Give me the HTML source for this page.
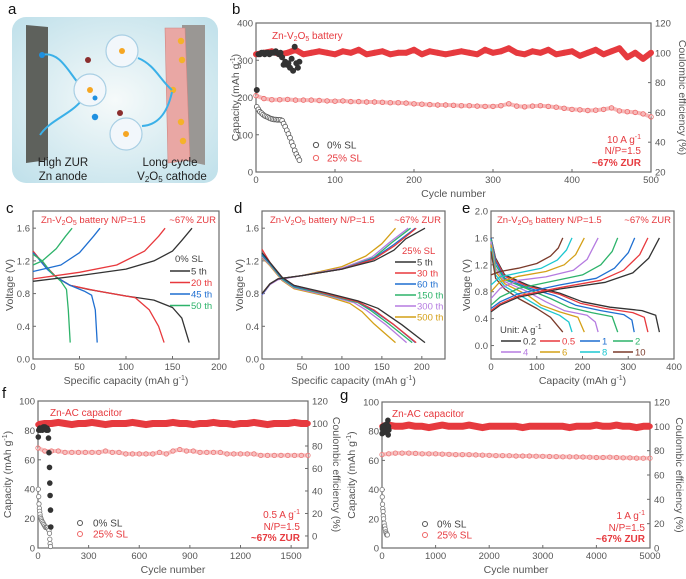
<!DOCTYPE html>
<html><head><meta charset="utf-8">
<style>
html,body{margin:0;padding:0;background:#fff;}
svg{display:block;font-family:"Liberation Sans",sans-serif;}
</style></head>
<body>
<svg id="fig" width="686" height="579" viewBox="0 0 686 579" xmlns="http://www.w3.org/2000/svg">
<defs>
<radialGradient id="bgGrad" cx="0.5" cy="0.5" r="0.7">
<stop offset="0" stop-color="#f6fafa"/><stop offset="1" stop-color="#bfe0ea"/>
</radialGradient>
</defs>
<rect width="686" height="579" fill="#fff"/>
<g>
<rect x="12" y="17" width="206" height="166" rx="14" fill="url(#bgGrad)"/>
<polygon points="26,25 48,27 48,160 26,163" fill="#5e615c"/>
<polygon points="182,25 205,25 205,165 182,160" fill="#9a9794"/>
<g fill="#e9a7a4" stroke="#d08682" stroke-width="0.6">
<polygon points="165,28 185,28 190,160 168,163"/>
</g>
<g fill="#f5b22a">
<circle cx="181" cy="41" r="3.2"/><circle cx="182" cy="60" r="3.2"/><circle cx="173" cy="90" r="3.2"/><circle cx="181" cy="122" r="3.2"/><circle cx="183" cy="141" r="3.2"/>
</g>
<g fill="none" stroke="#3ab0e8" stroke-width="2">
<path d="M42,55 C60,50 70,75 80,85"/><path d="M40,135 C50,120 70,115 82,100"/><path d="M138,58 C155,65 160,80 172,90"/><path d="M172,92 C168,110 160,125 142,126"/>
</g>
<g fill="#f2f7fb" stroke="#a9cfe4" stroke-width="1.2">
<circle cx="90" cy="90" r="16"/><circle cx="122" cy="51" r="16"/><circle cx="126" cy="134" r="16"/>
</g>
<g fill="#f5a623"><circle cx="90" cy="90" r="3"/><circle cx="122" cy="51" r="3"/><circle cx="126" cy="134" r="3"/></g>
<circle cx="42" cy="55" r="3" fill="#1e90e0"/>
<circle cx="95" cy="98" r="2.5" fill="#1e90e0"/>
<circle cx="95" cy="117" r="3.2" fill="#1e90e0"/>
<circle cx="88" cy="60" r="3" fill="#8b2e2e"/>
<circle cx="120" cy="113" r="3" fill="#8b2e2e"/>
<text x="63" y="166" font-size="11.5" text-anchor="middle" fill="#222">High ZUR</text>
<text x="63" y="180" font-size="11.5" text-anchor="middle" fill="#222">Zn anode</text>
<text x="170" y="166" font-size="11.5" text-anchor="middle" fill="#222">Long cycle</text>
<text x="172" y="180" font-size="11.5" text-anchor="middle" fill="#222">V<tspan font-size="8" dy="2">2</tspan><tspan dy="-2">O</tspan><tspan font-size="8" dy="2">5</tspan><tspan dy="-2"> cathode</tspan></text>
</g>
<g font-size="15" fill="#111">
<text x="8" y="14">a</text>
<text x="232" y="14">b</text>
<text x="6" y="213">c</text>
<text x="234" y="213">d</text>
<text x="462" y="213">e</text>
<text x="2" y="398">f</text>
<text x="340" y="400">g</text>
</g>
</svg>
<script>
// ---------- panel b data ----------
const bCyc25=[0,10,20,30,40,50,60,70,80,90,100,110,120,130,140,150,160,170,180,190,200,210,220,230,240,250,260,270,280,290,300,310,320,330,340,350,360,370,380,390,400,410,420,430,440,450,460,470,480,490,500];
const bCap25=[205,197,194,194,195,193,193,193,192,191,190,191,189,189,188,188,187,186,186,185,183,182,181,180,180,179,178,178,177,176,176,178,183,177,175,177,178,176,174,171,168,167,165,166,168,172,164,162,160,156,148];
const bCE25=[99,100,101,99,100,102,99,100,101,100,99,101,100,102,99,100,101,99,100,100,102,99,101,100,99,100,101,100,99,102,100,101,103,100,99,101,100,102,99,100,101,98,100,102,99,101,103,97,100,96,100];
const bCyc0=[1,3,5,7,9,11,13,15,17,19,21,23,25,27,29,31,33,35,37,39,41,43,45,47,49,51,53,55];
const bCap0=[175,168,162,158,154,151,149,147,145,143,142,141,141,140,140,140,138,130,122,112,102,92,80,70,58,48,40,32];
const bCE0=[75,99,99,100,100,99,100,100,99,100,100,100,101,100,99,100,97,92,94,92,93,90,96,88,104,93,90,94];
// ---------- panel f data ----------
const fCyc25=[0,40,80,120,160,200,240,280,320,360,400,440,480,520,560,600,640,680,720,760,800,840,880,920,960,1000,1040,1080,1120,1160,1200,1240,1280,1320,1360,1400,1440,1480,1520,1560,1600];
const fCap25=[68,66,66,66,65,65,65,65,65,65,66,65,65,64,64,64,64,64,65,64,66,67,66,66,65,65,65,65,64,64,64,64,64,63,63,63,63,63,63,63,63];
const fCE25=[99,100,100,101,100,99,100,100,101,100,99,100,100,100,101,100,99,100,100,100,101,100,100,99,100,100,101,100,100,99,100,100,101,100,99,100,100,100,101,100,100];
const fCyc0=[2,4,6,8,10,12,15,18,21,25,30,35,40,45,50,55,60,65,68,70,72,74];
const fCap0=[40,35,30,27,25,23,21,20,19,18,17,16,15,14,14,14,13,12,10,6,3,1];
const fCycCE0=[2,5,8,11,14,17,20,23,26,29,32,35,38,41,44,47,50,53,56,59,62,65,68,70,72,74,76];
const fCE0=[88,94,95,96,94,95,96,95,94,96,97,96,95,97,96,95,94,96,95,94,87,74,61,47,36,23,8];
// ---------- panel g data ----------
const gCyc25=[0,125,250,375,500,625,750,875,1000,1125,1250,1375,1500,1625,1750,1875,2000,2125,2250,2375,2500,2625,2750,2875,3000,3125,3250,3375,3500,3625,3750,3875,4000,4125,4250,4375,4500,4625,4750,4875,5000];
const gCap25=[64,64.5,65,65,65,64.8,64.5,64.5,64.5,64.3,64.2,64,64,64,63.8,63.6,63.5,63.3,63.3,63.2,63,63,63,62.9,62.8,62.7,62.6,62.5,62.5,62.4,62.3,62.2,62,62,62.2,62,61.8,61.8,61.6,61.5,61.5];
const gCE25=[100,101,100,100,101,100,100,99,100,101,100,100,100,101,100,99,100,100,100,100,100,99,100,100,100,100,100,100,99,100,100,100,101,100,100,101,100,100,99,100,100];
const gCyc0=[2,5,10,15,20,25,30,40,50,60,70,80,90,100];
const gCap0=[40,35,30,27,25,22,20,17,15,13,11,10,9,9];
const gCycCE0=[2,8,14,20,26,32,38,44,50,56,62,68,74,80,86,92,98,104,110,116,122,128];
const gCE0=[94,98,100,96,97,99,95,98,101,97,96,99,100,97,98,102,96,99,105,93,100,97];
// ---------- panel c curves [capacity, voltage] ----------
const cCycles=["5 th","20 th","45 th","50 th"];
const cDis=[
 [[0,1.32],[5,1.25],[15,1.12],[25,1.0],[40,0.9],[60,0.85],[100,0.77],[130,0.72],[150,0.63],[160,0.5],[168,0.2]],
 [[0,1.32],[5,1.25],[15,1.12],[25,1.0],[40,0.9],[70,0.83],[110,0.75],[125,0.6],[135,0.4],[141,0.2]],
 [[0,1.3],[5,1.24],[15,1.1],[25,1.0],[40,0.9],[55,0.83],[63,0.78],[67,0.6],[69,0.2]],
 [[0,1.28],[10,1.2],[20,1.05],[30,0.95],[36,0.85],[38,0.6],[40,0.2]]];
const cCha=[
 [[0,0.95],[50,1.02],[100,1.1],[130,1.2],[150,1.32],[160,1.45],[171,1.6]],
 [[0,0.98],[50,1.06],[90,1.15],[120,1.32],[135,1.5],[142,1.6]],
 [[0,1.07],[30,1.15],[50,1.3],[65,1.5],[72,1.6]],
 [[0,1.15],[10,1.2],[25,1.35],[35,1.5],[42,1.6]]];
// ---------- panel d curves ----------
const dCycles=["5 th","30 th","60 th","150 th","300 th","500 th"];
const dDis=[
 [[0,1.3],[10,1.18],[25,1.0],[40,0.9],[80,0.81],[120,0.71],[145,0.62],[175,0.42],[204,0.2]],
 [[0,1.34],[10,1.18],[25,1.0],[40,0.9],[80,0.8],[120,0.7],[140,0.6],[165,0.42],[193,0.2]],
 [[0,1.28],[10,1.17],[25,0.99],[40,0.89],[80,0.8],[120,0.7],[138,0.6],[165,0.42],[192,0.2]],
 [[0,1.27],[10,1.16],[25,0.98],[40,0.88],[80,0.79],[120,0.69],[135,0.6],[160,0.42],[188,0.2]],
 [[0,1.25],[10,1.15],[25,0.97],[40,0.87],[80,0.78],[115,0.69],[130,0.6],[155,0.42],[181,0.2]],
 [[0,1.24],[10,1.14],[25,0.96],[40,0.86],[80,0.77],[110,0.68],[125,0.58],[140,0.43],[167,0.2]]];
const dCha=[
 [[0,0.8],[10,0.92],[20,0.98],[50,1.02],[100,1.1],[140,1.2],[165,1.33],[180,1.47],[204,1.6]],
 [[0,0.8],[10,0.92],[20,0.98],[50,1.02],[100,1.1],[140,1.22],[165,1.38],[193,1.6]],
 [[0,0.79],[10,0.92],[20,0.98],[50,1.02],[100,1.1],[140,1.23],[165,1.4],[192,1.6]],
 [[0,0.79],[10,0.92],[20,0.98],[50,1.02],[100,1.1],[140,1.24],[162,1.42],[186,1.6]],
 [[0,0.78],[10,0.91],[20,0.97],[50,1.02],[100,1.11],[138,1.25],[160,1.43],[183,1.6]],
 [[0,0.8],[10,0.92],[20,0.98],[50,1.02],[100,1.13],[130,1.26],[150,1.41],[167,1.6]]];
// ---------- panel e curves ----------
const eRates=["0.2","0.5","1","2","4","6","8","10"];
const eDis=[
 [[0,1.6],[10,1.3],[30,1.05],[80,0.9],[150,0.78],[200,0.65],[260,0.57],[330,0.52],[360,0.45],[368,0.2]],
 [[0,1.6],[10,1.28],[30,1.03],[80,0.88],[150,0.76],[195,0.63],[250,0.55],[310,0.49],[335,0.42],[343,0.2]],
 [[0,1.6],[10,1.25],[30,1.0],[80,0.86],[140,0.74],[185,0.6],[240,0.52],[290,0.46],[308,0.38],[313,0.2]],
 [[0,1.58],[10,1.2],[30,0.98],[80,0.84],[130,0.7],[170,0.57],[220,0.49],[265,0.43],[277,0.2]],
 [[0,1.55],[10,1.15],[30,0.95],[80,0.8],[120,0.65],[160,0.52],[210,0.45],[228,0.35],[234,0.2]],
 [[0,1.5],[10,1.1],[30,0.92],[80,0.75],[110,0.6],[150,0.5],[190,0.42],[204,0.2]],
 [[0,1.45],[10,1.05],[30,0.88],[70,0.72],[110,0.56],[150,0.45],[170,0.35],[177,0.2]],
 [[0,1.4],[10,1.0],[30,0.84],[60,0.7],[100,0.55],[130,0.42],[157,0.2]]];
const eCha=[
 [[0,0.5],[20,0.6],[60,0.72],[150,0.84],[250,0.94],[310,1.08],[345,1.3],[368,1.6]],
 [[0,0.52],[20,0.62],[60,0.74],[150,0.86],[240,0.97],[290,1.12],[325,1.35],[343,1.6]],
 [[0,0.55],[20,0.65],[60,0.77],[150,0.9],[230,1.0],[270,1.15],[300,1.38],[314,1.6]],
 [[0,0.6],[20,0.72],[60,0.85],[130,0.95],[200,1.05],[240,1.2],[265,1.4],[277,1.6]],
 [[0,0.7],[20,0.85],[60,0.97],[120,1.02],[180,1.12],[210,1.28],[234,1.6]],
 [[0,0.8],[20,0.95],[60,1.03],[120,1.1],[160,1.2],[185,1.35],[204,1.6]],
 [[0,0.9],[20,1.02],[60,1.08],[110,1.15],[145,1.27],[165,1.42],[177,1.6]],
 [[0,1.05],[20,1.1],[60,1.15],[100,1.22],[130,1.33],[147,1.45],[157,1.6]]];

const NS="http://www.w3.org/2000/svg";
const svg=document.getElementById('fig');
const RED="#e63a3f", GRAY="#555", AX="#6b6b6b";
const lineCols=["#333333","#e8393d","#1f6fd1","#2db36a","#b57be0","#d4a017","#1cc7d0","#7a3a2a"];
const cCols=["#333333","#e8393d","#1f6fd1","#2db36a"];
const dCols=["#333333","#e8393d","#1f6fd1","#2db36a","#b57be0","#d4a017"];

function mk(tag,attrs,name,parent){
  const el=document.createElementNS(NS,tag);
  for(const k in attrs) el.setAttribute(k,attrs[k]);
  
  
  (parent||svg).appendChild(el);
  return el;
}
function txt(x,y,s,name,opt,parent){
  opt=opt||{};
  const t=mk('text',{x:x,y:y,'font-size':opt.size||9.5,fill:opt.fill||GRAY,'text-anchor':opt.anchor||'start','font-weight':opt.weight||'normal'},name,parent);
  if(opt.rot) t.setAttribute('transform','rotate('+opt.rot+' '+x+' '+y+')');
  if(opt.html) t.innerHTML=s; else t.textContent=s;
  return t;
}
function scale(d0,d1,r0,r1){return v=>r0+(v-d0)/(d1-d0)*(r1-r0);}

function axes(p){
  const g=mk('g',{},p.name);
  const sx=scale(p.xmin,p.xmax,p.L,p.R), sy=scale(p.ymin,p.ymax,p.B,p.T);
  let sy2=null;
  if(p.y2) sy2=scale(p.y2min,p.y2max,p.B,p.T);
  mk('rect',{x:p.L,y:p.T,width:p.R-p.L,height:p.B-p.T,fill:'none',stroke:AX,'stroke-width':1.2},'plot-frame',g);
  p.xticks.forEach(v=>{
    const x=sx(v);
    mk('line',{x1:x,x2:x,y1:p.B,y2:p.B-3,stroke:AX},'x-tick',g);
    txt(x,p.B+11,String(v),'x-tick-label',{anchor:'middle'},g);
  });
  p.yticks.forEach(v=>{
    const y=sy(v);
    mk('line',{x1:p.L,x2:p.L+3,y1:y,y2:y,stroke:AX},'y-tick',g);
    txt(p.L-3,y+3.5,p.yfmt?p.yfmt(v):String(v),'y-tick-label',{anchor:'end'},g);
  });
  if(p.y2){
    p.y2ticks.forEach(v=>{
      const y=sy2(v);
      mk('line',{x1:p.R,x2:p.R-3,y1:y,y2:y,stroke:AX},'y2-tick',g);
      txt(p.R+4,y+3.5,String(v),'y2-tick-label',{anchor:'start'},g);
    });
    txt(p.y2tx,(p.T+p.B)/2,'Coulombic efficiency (%)','y2-axis-title',{anchor:'middle',rot:90,size:10.5},g);
  }
  txt((p.L+p.R)/2,p.xty,p.xtitle,'x-axis-title',{anchor:'middle',size:10.5,html:true},g);
  txt(p.ytx,(p.T+p.B)/2,p.ytitle,'y-axis-title',{anchor:'middle',rot:-90,size:10.5,html:true},g);
  return {g,sx,sy,sy2};
}
function poly(pts,sx,sy,col,name,parent,w){
  return mk('polyline',{points:pts.map(p=>sx(p[0]).toFixed(1)+','+sy(p[1]).toFixed(1)).join(' '),fill:'none',stroke:col,'stroke-width':w||1.3,'stroke-linejoin':'round'},name,parent);
}
function pts(xs,ys){return xs.map((x,i)=>[x,ys[i]]);}
function dots(xs,ys,sx,sy,o,name,parent){
  xs.forEach((x,i)=>{
    mk('circle',{cx:sx(x).toFixed(1),cy:sy(ys[i]).toFixed(1),r:o.r,fill:o.fill,stroke:o.stroke,'stroke-width':o.sw||0.8},name,parent);
  });
}
const capT='Capacity (mAh g<tspan dy="-4" font-size="7">-1</tspan><tspan dy="4">)</tspan>';
const spT='Specific capacity (mAh g<tspan dy="-4" font-size="7">-1</tspan><tspan dy="4">)</tspan>';
const battT='Zn-V<tspan font-size="7" dy="2">2</tspan><tspan dy="-2">O</tspan><tspan font-size="7" dy="2">5</tspan><tspan dy="-2"> battery</tspan>';

// ===== panel b =====
(function(){
  const A=axes({name:'panel-b-cycling',L:256,R:651,T:23,B:172,xmin:0,xmax:500,ymin:0,ymax:400,
    xticks:[0,100,200,300,400,500],yticks:[0,100,200,300,400],y2:true,y2min:20,y2max:120,y2ticks:[20,40,60,80,100,120],
    xtitle:'Cycle number',xty:197,ytitle:capT,ytx:239,y2tx:679});
  const g=A.g;
  poly(pts(bCyc25,bCE25),A.sx,A.sy2,RED,'ce-25-band',g,6);
  dots(bCyc25,bCE25,A.sx,A.sy2,{r:2.6,fill:RED,stroke:RED},'ce-25-point',g);
  poly(pts(bCyc25,bCap25),A.sx,A.sy,'#f6b9b9','capacity-25-band',g,4);
  dots(bCyc25,bCap25,A.sx,A.sy,{r:2.3,fill:'none',stroke:'#e66'},'capacity-25-point',g);
  dots(bCyc0,bCap0,A.sx,A.sy,{r:2.4,fill:'#fff',stroke:'#555'},'capacity-0-point',g);
  dots(bCyc0,bCE0,A.sx,A.sy2,{r:2.6,fill:'#333',stroke:'#333'},'ce-0-point',g);
  txt(272,39,battT,'chart-label',{fill:RED,size:10,html:true},g);
  txt(641,143,'10 A g<tspan dy="-4" font-size="7">-1</tspan>','rate-annotation',{fill:RED,size:10,anchor:'end',html:true},g);
  txt(641,154,'N/P=1.5','np-annotation',{fill:RED,size:10,anchor:'end'},g);
  txt(641,166,'~67% ZUR','zur-annotation',{fill:RED,size:10,anchor:'end',weight:'bold'},g);
  mk('circle',{cx:316,cy:145,r:2.6,fill:'none',stroke:'#555'},'legend-marker-0',g);
  txt(327,148.5,'0% SL','legend-label-0',{fill:'#444',size:10},g);
  mk('circle',{cx:316,cy:158,r:2.6,fill:'none',stroke:'#e66'},'legend-marker-25',g);
  txt(327,161.5,'25% SL','legend-label-25',{fill:RED,size:10},g);
})();

// ===== panel c =====
(function(){
  const A=axes({name:'panel-c-voltage-0sl',L:33,R:219,T:211,B:359,xmin:0,xmax:200,ymin:0,ymax:1.81,
    xticks:[0,50,100,150,200],yticks:[0,0.4,0.8,1.2,1.6],yfmt:v=>v.toFixed(1),
    xtitle:spT,xty:384,ytitle:'Voltage (V)',ytx:13});
  const g=A.g;
  cDis.forEach((c,i)=>poly(c,A.sx,A.sy,cCols[i],'discharge-'+cCycles[i].replace(' ',''),g));
  cCha.forEach((c,i)=>poly(c,A.sx,A.sy,cCols[i],'charge-'+cCycles[i].replace(' ',''),g));
  txt(41,223,battT+'<tspan>  N/P=1.5</tspan>','chart-label',{fill:RED,size:9.5,html:true},g);
  txt(216,223,'~67% ZUR','zur-annotation',{fill:RED,size:9.5,anchor:'end'},g);
  txt(175,262,'0% SL','legend-title',{fill:'#444',size:9.5},g);
  cCycles.forEach((s,i)=>{
    const y=271+i*11.5;
    mk('line',{x1:170,x2:190,y1:y,y2:y,stroke:cCols[i],'stroke-width':1.4},'legend-line',g);
    txt(191,y+3.5,s,'legend-label',{fill:i?cCols[i]:'#444',size:9.5},g);
  });
})();

// ===== panel d =====
(function(){
  const A=axes({name:'panel-d-voltage-25sl',L:262,R:445,T:211,B:359,xmin:0,xmax:229,ymin:0,ymax:1.81,
    xticks:[0,50,100,150,200],yticks:[0,0.4,0.8,1.2,1.6],yfmt:v=>v.toFixed(1),
    xtitle:spT,xty:384,ytitle:'Voltage (V)',ytx:243});
  const g=A.g;
  for(let i=dDis.length-1;i>=0;i--){
    poly(dDis[i],A.sx,A.sy,dCols[i],'discharge-'+dCycles[i].replace(' ',''),g);
    poly(dCha[i],A.sx,A.sy,dCols[i],'charge-'+dCycles[i].replace(' ',''),g);
  }
  txt(270,223,battT+'<tspan>     N/P=1.5</tspan>','chart-label',{fill:RED,size:9.5,html:true},g);
  txt(441,223,'~67% ZUR','zur-annotation',{fill:RED,size:9.5,anchor:'end'},g);
  txt(402,254,'25% SL','legend-title',{fill:RED,size:9.5},g);
  dCycles.forEach((s,i)=>{
    const y=262+i*11;
    mk('line',{x1:395,x2:416,y1:y,y2:y,stroke:dCols[i],'stroke-width':1.4},'legend-line',g);
    txt(417,y+3.5,s,'legend-label',{fill:i?dCols[i]:'#444',size:9.5},g);
  });
})();

// ===== panel e =====
(function(){
  const A=axes({name:'panel-e-rate-curves',L:491,R:674,T:211,B:359,xmin:0,xmax:400,ymin:-0.2,ymax:2.0,
    xticks:[0,100,200,300,400],yticks:[0,0.4,0.8,1.2,1.6,2.0],yfmt:v=>v.toFixed(1),
    xtitle:capT,xty:384,ytitle:'Voltage (V)',ytx:470});
  const g=A.g;
  eDis.forEach((c,i)=>poly(c,A.sx,A.sy,lineCols[i],'discharge-'+eRates[i],g));
  eCha.forEach((c,i)=>poly(c,A.sx,A.sy,lineCols[i],'charge-'+eRates[i],g));
  txt(497,223,battT+'<tspan>     N/P=1.5</tspan>','chart-label',{fill:RED,size:9.5,html:true},g);
  txt(671,223,'~67% ZUR','zur-annotation',{fill:RED,size:9.5,anchor:'end'},g);
  txt(500,333,'Unit: A g<tspan dy="-4" font-size="7">-1</tspan>','legend-title',{fill:'#444',size:9.5,html:true},g);
  const lx=[501,540,580,613];
  eRates.forEach((s,i)=>{
    const y=i<4?341:352, x=lx[i%4];
    mk('line',{x1:x,x2:x+20,y1:y,y2:y,stroke:lineCols[i],'stroke-width':1.4},'legend-line',g);
    txt(x+22,y+3.5,s,'legend-label',{fill:i?lineCols[i]:'#444',size:9.5},g);
  });
})();

// ===== panel f =====
(function(){
  const A=axes({name:'panel-f-capacitor-cycling',L:38,R:308,T:401,B:548,xmin:0,xmax:1600,ymin:0,ymax:100,
    xticks:[0,300,600,900,1200,1500],yticks:[0,20,40,60,80,100],y2:true,y2min:-10.7,y2max:120,y2ticks:[0,20,40,60,80,100,120],
    xtitle:'Cycle number',xty:573,ytitle:capT,ytx:11,y2tx:333});
  const g=A.g;
  poly(pts(fCyc25,fCE25),A.sx,A.sy2,RED,'ce-25-band',g,7);
  dots(fCyc25,fCE25,A.sx,A.sy2,{r:2.4,fill:RED,stroke:RED},'ce-25-point',g);
  poly(pts(fCyc25,fCap25),A.sx,A.sy,'#f6c0c0','capacity-25-band',g,4);
  dots(fCyc25,fCap25,A.sx,A.sy,{r:2.2,fill:'none',stroke:'#e77'},'capacity-25-point',g);
  dots(fCyc0,fCap0,A.sx,A.sy,{r:2.2,fill:'#fff',stroke:'#777'},'capacity-0-point',g);
  dots(fCycCE0,fCE0,A.sx,A.sy2,{r:2.4,fill:'#333',stroke:'#333'},'ce-0-point',g);
  txt(50,416,'Zn-AC capacitor','chart-label',{fill:RED,size:10},g);
  txt(300,518,'0.5 A g<tspan dy="-4" font-size="7">-1</tspan>','rate-annotation',{fill:RED,size:10,anchor:'end',html:true},g);
  txt(300,530,'N/P=1.5','np-annotation',{fill:RED,size:10,anchor:'end'},g);
  txt(300,541,'~67% ZUR','zur-annotation',{fill:RED,size:10,anchor:'end',weight:'bold'},g);
  mk('circle',{cx:80,cy:523,r:2.5,fill:'none',stroke:'#555'},'legend-marker-0',g);
  txt(93,526.5,'0% SL','legend-label-0',{fill:'#444',size:10},g);
  mk('circle',{cx:80,cy:534,r:2.5,fill:'none',stroke:'#e66'},'legend-marker-25',g);
  txt(93,537.5,'25% SL','legend-label-25',{fill:RED,size:10},g);
})();

// ===== panel g =====
(function(){
  const A=axes({name:'panel-g-capacitor-cycling',L:382,R:650,T:402,B:548,xmin:0,xmax:5000,ymin:0,ymax:100,
    xticks:[0,1000,2000,3000,4000,5000],yticks:[0,20,40,60,80,100],y2:true,y2min:0,y2max:120,y2ticks:[0,20,40,60,80,100,120],
    xtitle:'Cycle number',xty:573,ytitle:capT,ytx:355,y2tx:676});
  const g=A.g;
  poly(pts(gCyc25,gCE25),A.sx,A.sy2,RED,'ce-25-band',g,7);
  dots(gCyc25,gCE25,A.sx,A.sy2,{r:2.4,fill:RED,stroke:RED},'ce-25-point',g);
  poly(pts(gCyc25,gCap25),A.sx,A.sy,'#f6c0c0','capacity-25-band',g,4);
  dots(gCyc25,gCap25,A.sx,A.sy,{r:2.2,fill:'none',stroke:'#e77'},'capacity-25-point',g);
  dots(gCyc0,gCap0,A.sx,A.sy,{r:2.2,fill:'#fff',stroke:'#777'},'capacity-0-point',g);
  dots(gCycCE0,gCE0,A.sx,A.sy2,{r:2.4,fill:'#333',stroke:'#333'},'ce-0-point',g);
  txt(392,417,'Zn-AC capacitor','chart-label',{fill:RED,size:10},g);
  txt(645,519,'1 A g<tspan dy="-4" font-size="7">-1</tspan>','rate-annotation',{fill:RED,size:10,anchor:'end',html:true},g);
  txt(645,531,'N/P=1.5','np-annotation',{fill:RED,size:10,anchor:'end'},g);
  txt(645,542,'~67% ZUR','zur-annotation',{fill:RED,size:10,anchor:'end',weight:'bold'},g);
  mk('circle',{cx:425,cy:524,r:2.5,fill:'none',stroke:'#555'},'legend-marker-0',g);
  txt(437,527.5,'0% SL','legend-label-0',{fill:'#444',size:10},g);
  mk('circle',{cx:425,cy:535,r:2.5,fill:'none',stroke:'#e66'},'legend-marker-25',g);
  txt(437,538.5,'25% SL','legend-label-25',{fill:RED,size:10},g);
})();
</script>
</body></html>
